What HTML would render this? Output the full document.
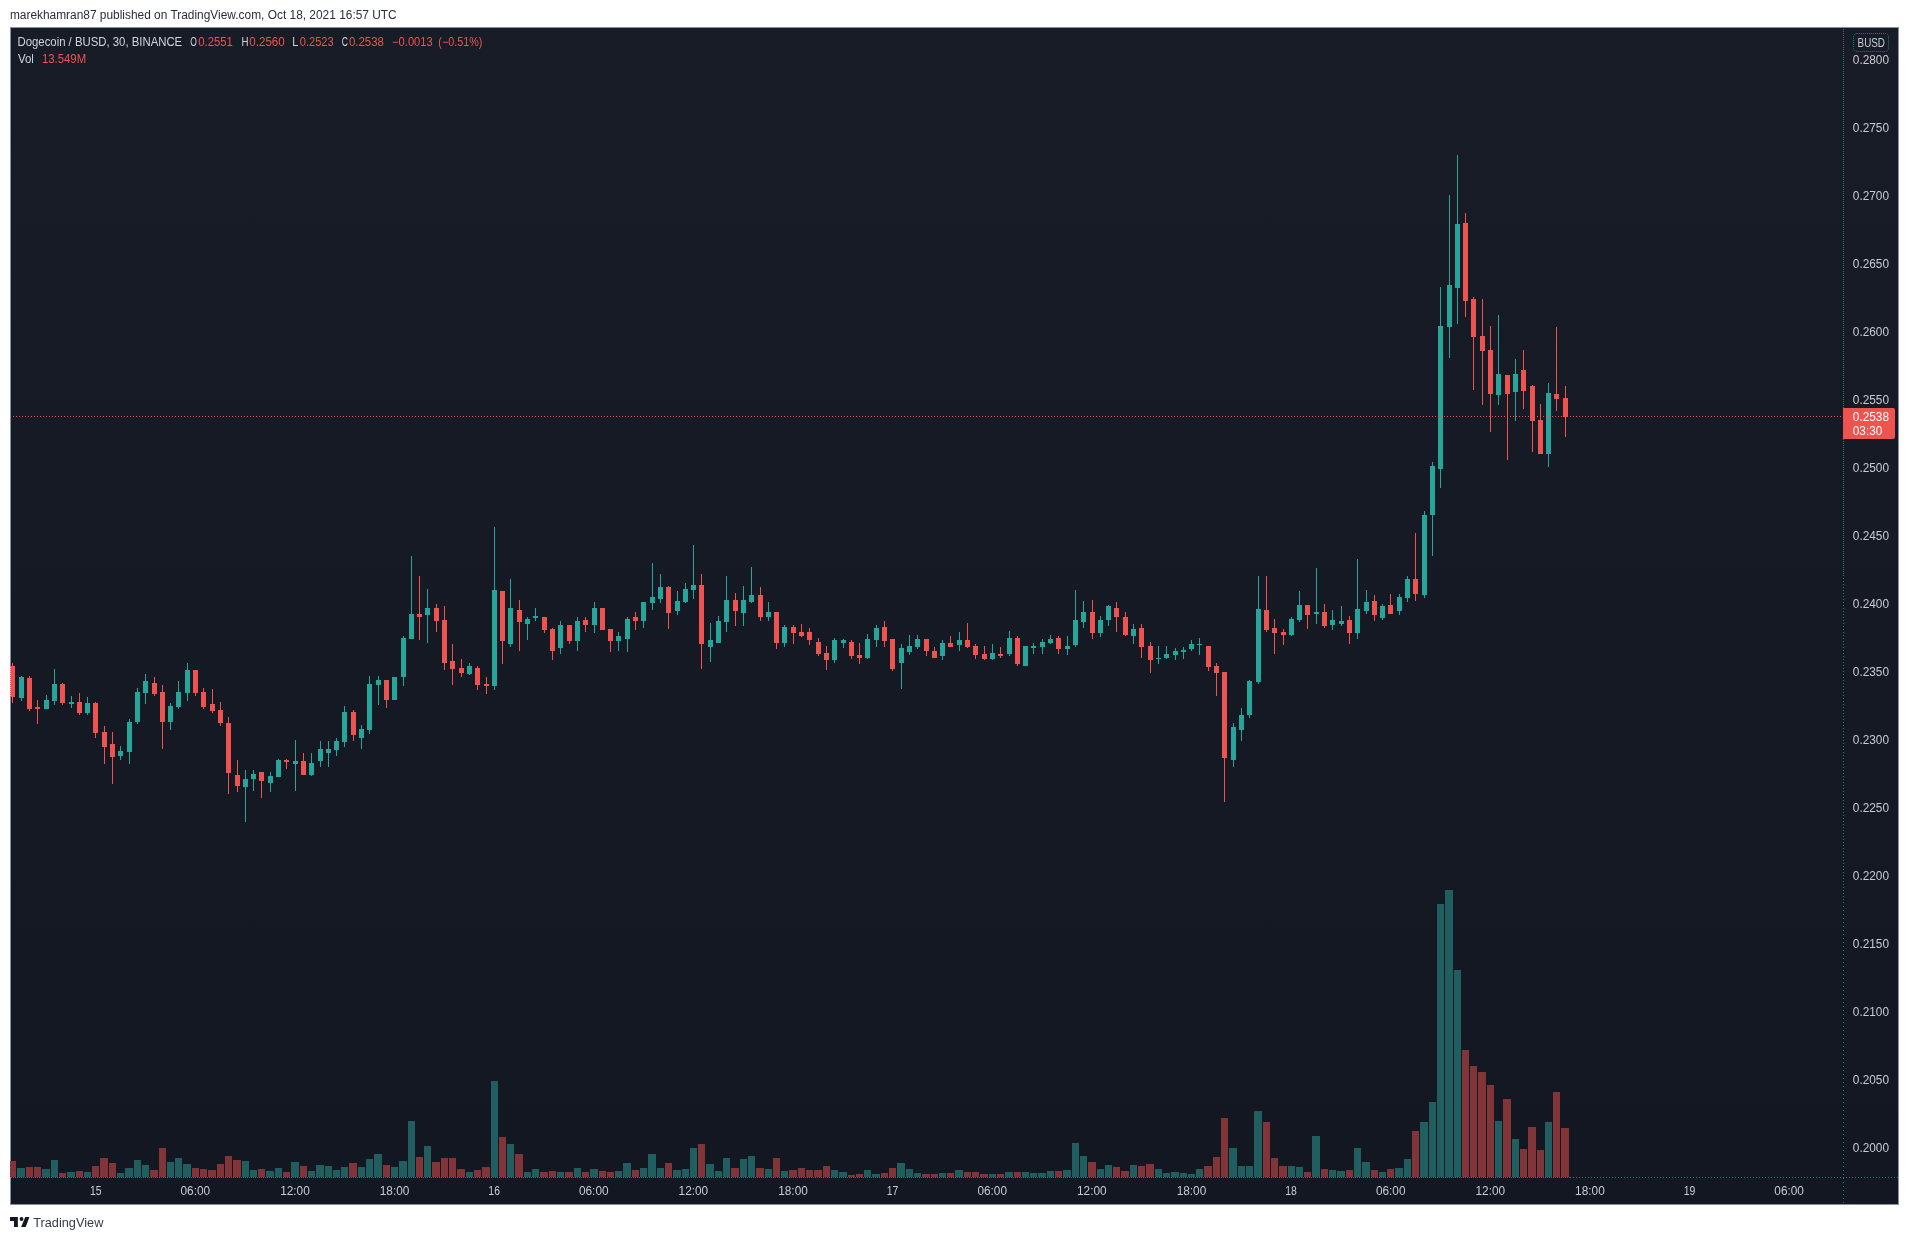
<!DOCTYPE html>
<html lang="en"><head><meta charset="utf-8"><title>Dogecoin / BUSD chart</title>
<style>html,body{margin:0;padding:0;background:#fff;}body{width:1909px;height:1240px;overflow:hidden;}svg{display:block;will-change:transform;}text{font-family:"Liberation Sans",sans-serif;}</style>
</head><body>
<svg width="1909" height="1240" viewBox="0 0 1909 1240">
<defs><linearGradient id="bg" x1="0" y1="0" x2="0" y2="1"><stop offset="0" stop-color="#181c27"/><stop offset="1" stop-color="#131722"/></linearGradient>
<clipPath id="cp"><rect x="10" y="28" width="1888" height="1176"/></clipPath></defs>
<rect x="0" y="0" width="1909" height="1240" fill="#ffffff"/>
<text x="9.9" y="19" font-size="12" fill="#2a2e39" textLength="386.8" lengthAdjust="spacingAndGlyphs">marekhamran87 published on TradingView.com, Oct 18, 2021 16:57 UTC</text>
<rect x="10" y="27" width="1889" height="1178" fill="#8b8e9b"/>
<rect x="11" y="28" width="1887" height="1176" fill="url(#bg)"/>
<g shape-rendering="crispEdges" clip-path="url(#cp)">
<rect x="9" y="1161" width="7" height="16" fill="#823539"/>
<rect x="17" y="1168" width="8" height="9" fill="#205e60"/>
<rect x="26" y="1167" width="7" height="10" fill="#823539"/>
<rect x="34" y="1167" width="7" height="10" fill="#823539"/>
<rect x="42" y="1169" width="8" height="8" fill="#205e60"/>
<rect x="51" y="1160" width="7" height="17" fill="#205e60"/>
<rect x="59" y="1173" width="7" height="4" fill="#823539"/>
<rect x="67" y="1172" width="8" height="5" fill="#205e60"/>
<rect x="76" y="1171" width="7" height="6" fill="#823539"/>
<rect x="84" y="1172" width="7" height="5" fill="#205e60"/>
<rect x="92" y="1166" width="7" height="11" fill="#823539"/>
<rect x="100" y="1158" width="8" height="19" fill="#823539"/>
<rect x="109" y="1163" width="7" height="14" fill="#823539"/>
<rect x="117" y="1173" width="7" height="4" fill="#205e60"/>
<rect x="125" y="1168" width="8" height="9" fill="#205e60"/>
<rect x="134" y="1160" width="7" height="17" fill="#205e60"/>
<rect x="142" y="1165" width="7" height="12" fill="#205e60"/>
<rect x="150" y="1170" width="8" height="7" fill="#823539"/>
<rect x="159" y="1148" width="7" height="29" fill="#823539"/>
<rect x="167" y="1162" width="7" height="15" fill="#205e60"/>
<rect x="175" y="1158" width="7" height="19" fill="#205e60"/>
<rect x="183" y="1164" width="8" height="13" fill="#205e60"/>
<rect x="192" y="1168" width="7" height="9" fill="#823539"/>
<rect x="200" y="1169" width="7" height="8" fill="#823539"/>
<rect x="208" y="1170" width="8" height="7" fill="#823539"/>
<rect x="217" y="1164" width="7" height="13" fill="#823539"/>
<rect x="225" y="1156" width="7" height="21" fill="#823539"/>
<rect x="233" y="1160" width="8" height="17" fill="#823539"/>
<rect x="242" y="1161" width="7" height="16" fill="#205e60"/>
<rect x="250" y="1170" width="7" height="7" fill="#205e60"/>
<rect x="258" y="1169" width="7" height="8" fill="#823539"/>
<rect x="266" y="1171" width="8" height="6" fill="#205e60"/>
<rect x="275" y="1168" width="7" height="9" fill="#205e60"/>
<rect x="283" y="1172" width="7" height="5" fill="#823539"/>
<rect x="291" y="1162" width="8" height="15" fill="#205e60"/>
<rect x="300" y="1166" width="7" height="11" fill="#823539"/>
<rect x="308" y="1171" width="7" height="6" fill="#205e60"/>
<rect x="316" y="1165" width="8" height="12" fill="#205e60"/>
<rect x="325" y="1166" width="7" height="11" fill="#205e60"/>
<rect x="333" y="1170" width="7" height="7" fill="#205e60"/>
<rect x="341" y="1167" width="7" height="10" fill="#205e60"/>
<rect x="349" y="1163" width="8" height="14" fill="#823539"/>
<rect x="358" y="1167" width="7" height="10" fill="#205e60"/>
<rect x="366" y="1159" width="7" height="18" fill="#205e60"/>
<rect x="374" y="1154" width="8" height="23" fill="#205e60"/>
<rect x="383" y="1165" width="7" height="12" fill="#823539"/>
<rect x="391" y="1167" width="7" height="10" fill="#205e60"/>
<rect x="399" y="1161" width="8" height="16" fill="#205e60"/>
<rect x="408" y="1121" width="7" height="56" fill="#205e60"/>
<rect x="416" y="1157" width="7" height="20" fill="#823539"/>
<rect x="424" y="1146" width="7" height="31" fill="#205e60"/>
<rect x="432" y="1162" width="8" height="15" fill="#823539"/>
<rect x="441" y="1158" width="7" height="19" fill="#823539"/>
<rect x="449" y="1158" width="7" height="19" fill="#823539"/>
<rect x="457" y="1169" width="8" height="8" fill="#823539"/>
<rect x="466" y="1172" width="7" height="5" fill="#205e60"/>
<rect x="474" y="1170" width="7" height="7" fill="#823539"/>
<rect x="482" y="1167" width="8" height="10" fill="#823539"/>
<rect x="491" y="1081" width="7" height="96" fill="#205e60"/>
<rect x="499" y="1137" width="7" height="40" fill="#823539"/>
<rect x="507" y="1144" width="7" height="33" fill="#205e60"/>
<rect x="515" y="1154" width="8" height="23" fill="#823539"/>
<rect x="524" y="1172" width="7" height="5" fill="#205e60"/>
<rect x="532" y="1169" width="7" height="8" fill="#205e60"/>
<rect x="540" y="1172" width="8" height="5" fill="#823539"/>
<rect x="549" y="1171" width="7" height="6" fill="#823539"/>
<rect x="557" y="1172" width="7" height="5" fill="#205e60"/>
<rect x="565" y="1172" width="8" height="5" fill="#823539"/>
<rect x="574" y="1168" width="7" height="9" fill="#205e60"/>
<rect x="582" y="1172" width="7" height="5" fill="#823539"/>
<rect x="590" y="1169" width="8" height="8" fill="#205e60"/>
<rect x="599" y="1171" width="7" height="6" fill="#823539"/>
<rect x="607" y="1172" width="7" height="5" fill="#823539"/>
<rect x="615" y="1171" width="7" height="6" fill="#205e60"/>
<rect x="623" y="1163" width="8" height="14" fill="#205e60"/>
<rect x="632" y="1170" width="7" height="7" fill="#823539"/>
<rect x="640" y="1168" width="7" height="9" fill="#205e60"/>
<rect x="648" y="1154" width="8" height="23" fill="#205e60"/>
<rect x="657" y="1168" width="7" height="9" fill="#205e60"/>
<rect x="665" y="1163" width="7" height="14" fill="#823539"/>
<rect x="673" y="1170" width="8" height="7" fill="#205e60"/>
<rect x="682" y="1169" width="7" height="8" fill="#205e60"/>
<rect x="690" y="1148" width="7" height="29" fill="#205e60"/>
<rect x="698" y="1144" width="7" height="33" fill="#823539"/>
<rect x="706" y="1164" width="8" height="13" fill="#205e60"/>
<rect x="715" y="1171" width="7" height="6" fill="#205e60"/>
<rect x="723" y="1158" width="7" height="19" fill="#205e60"/>
<rect x="731" y="1168" width="8" height="9" fill="#823539"/>
<rect x="740" y="1159" width="7" height="18" fill="#205e60"/>
<rect x="748" y="1156" width="7" height="21" fill="#205e60"/>
<rect x="756" y="1168" width="8" height="9" fill="#823539"/>
<rect x="765" y="1169" width="7" height="8" fill="#205e60"/>
<rect x="773" y="1158" width="7" height="19" fill="#823539"/>
<rect x="781" y="1171" width="7" height="6" fill="#205e60"/>
<rect x="789" y="1170" width="8" height="7" fill="#823539"/>
<rect x="798" y="1168" width="7" height="9" fill="#823539"/>
<rect x="806" y="1170" width="7" height="7" fill="#823539"/>
<rect x="814" y="1170" width="8" height="7" fill="#823539"/>
<rect x="823" y="1166" width="7" height="11" fill="#823539"/>
<rect x="831" y="1170" width="7" height="7" fill="#205e60"/>
<rect x="839" y="1172" width="8" height="5" fill="#205e60"/>
<rect x="848" y="1175" width="7" height="2" fill="#823539"/>
<rect x="856" y="1174" width="7" height="3" fill="#823539"/>
<rect x="864" y="1170" width="7" height="7" fill="#205e60"/>
<rect x="872" y="1174" width="8" height="3" fill="#205e60"/>
<rect x="881" y="1173" width="7" height="4" fill="#823539"/>
<rect x="889" y="1168" width="7" height="9" fill="#823539"/>
<rect x="897" y="1163" width="8" height="14" fill="#205e60"/>
<rect x="906" y="1169" width="7" height="8" fill="#205e60"/>
<rect x="914" y="1173" width="7" height="4" fill="#205e60"/>
<rect x="922" y="1174" width="8" height="3" fill="#823539"/>
<rect x="931" y="1174" width="7" height="3" fill="#823539"/>
<rect x="939" y="1173" width="7" height="4" fill="#205e60"/>
<rect x="947" y="1173" width="7" height="4" fill="#823539"/>
<rect x="955" y="1170" width="8" height="7" fill="#205e60"/>
<rect x="964" y="1172" width="7" height="5" fill="#823539"/>
<rect x="972" y="1172" width="7" height="5" fill="#823539"/>
<rect x="980" y="1174" width="8" height="3" fill="#823539"/>
<rect x="989" y="1174" width="7" height="3" fill="#205e60"/>
<rect x="997" y="1174" width="7" height="3" fill="#823539"/>
<rect x="1005" y="1172" width="8" height="5" fill="#205e60"/>
<rect x="1014" y="1172" width="7" height="5" fill="#823539"/>
<rect x="1022" y="1172" width="7" height="5" fill="#205e60"/>
<rect x="1030" y="1173" width="7" height="4" fill="#205e60"/>
<rect x="1038" y="1173" width="8" height="4" fill="#205e60"/>
<rect x="1047" y="1171" width="7" height="6" fill="#205e60"/>
<rect x="1055" y="1171" width="7" height="6" fill="#823539"/>
<rect x="1063" y="1170" width="8" height="7" fill="#205e60"/>
<rect x="1072" y="1143" width="7" height="34" fill="#205e60"/>
<rect x="1080" y="1156" width="7" height="21" fill="#205e60"/>
<rect x="1088" y="1162" width="8" height="15" fill="#823539"/>
<rect x="1097" y="1169" width="7" height="8" fill="#205e60"/>
<rect x="1105" y="1165" width="7" height="12" fill="#205e60"/>
<rect x="1113" y="1167" width="7" height="10" fill="#823539"/>
<rect x="1121" y="1171" width="8" height="6" fill="#823539"/>
<rect x="1130" y="1165" width="7" height="12" fill="#205e60"/>
<rect x="1138" y="1166" width="7" height="11" fill="#823539"/>
<rect x="1146" y="1164" width="8" height="13" fill="#823539"/>
<rect x="1155" y="1169" width="7" height="8" fill="#205e60"/>
<rect x="1163" y="1173" width="7" height="4" fill="#205e60"/>
<rect x="1171" y="1172" width="8" height="5" fill="#205e60"/>
<rect x="1180" y="1173" width="7" height="4" fill="#205e60"/>
<rect x="1188" y="1174" width="7" height="3" fill="#205e60"/>
<rect x="1196" y="1169" width="7" height="8" fill="#205e60"/>
<rect x="1204" y="1166" width="8" height="11" fill="#823539"/>
<rect x="1213" y="1157" width="7" height="20" fill="#823539"/>
<rect x="1221" y="1118" width="7" height="59" fill="#823539"/>
<rect x="1229" y="1148" width="8" height="29" fill="#205e60"/>
<rect x="1238" y="1166" width="7" height="11" fill="#205e60"/>
<rect x="1246" y="1166" width="7" height="11" fill="#205e60"/>
<rect x="1254" y="1111" width="8" height="66" fill="#205e60"/>
<rect x="1263" y="1122" width="7" height="55" fill="#823539"/>
<rect x="1271" y="1158" width="7" height="19" fill="#823539"/>
<rect x="1279" y="1166" width="8" height="11" fill="#823539"/>
<rect x="1288" y="1166" width="7" height="11" fill="#205e60"/>
<rect x="1296" y="1167" width="7" height="10" fill="#205e60"/>
<rect x="1304" y="1172" width="7" height="5" fill="#823539"/>
<rect x="1312" y="1136" width="8" height="41" fill="#205e60"/>
<rect x="1321" y="1169" width="7" height="8" fill="#823539"/>
<rect x="1329" y="1170" width="7" height="7" fill="#205e60"/>
<rect x="1337" y="1171" width="8" height="6" fill="#205e60"/>
<rect x="1346" y="1170" width="7" height="7" fill="#823539"/>
<rect x="1354" y="1148" width="7" height="29" fill="#205e60"/>
<rect x="1362" y="1162" width="8" height="15" fill="#205e60"/>
<rect x="1371" y="1170" width="7" height="7" fill="#823539"/>
<rect x="1379" y="1172" width="7" height="5" fill="#205e60"/>
<rect x="1387" y="1169" width="7" height="8" fill="#823539"/>
<rect x="1395" y="1168" width="8" height="9" fill="#205e60"/>
<rect x="1404" y="1159" width="7" height="18" fill="#205e60"/>
<rect x="1412" y="1131" width="7" height="46" fill="#823539"/>
<rect x="1420" y="1122" width="8" height="55" fill="#205e60"/>
<rect x="1429" y="1102" width="7" height="75" fill="#205e60"/>
<rect x="1437" y="904" width="7" height="273" fill="#205e60"/>
<rect x="1445" y="890" width="8" height="287" fill="#205e60"/>
<rect x="1454" y="970" width="7" height="207" fill="#205e60"/>
<rect x="1462" y="1050" width="7" height="127" fill="#823539"/>
<rect x="1470" y="1066" width="7" height="111" fill="#823539"/>
<rect x="1478" y="1072" width="8" height="105" fill="#823539"/>
<rect x="1487" y="1085" width="7" height="92" fill="#823539"/>
<rect x="1495" y="1121" width="7" height="56" fill="#205e60"/>
<rect x="1503" y="1099" width="8" height="78" fill="#823539"/>
<rect x="1512" y="1139" width="7" height="38" fill="#205e60"/>
<rect x="1520" y="1149" width="7" height="28" fill="#823539"/>
<rect x="1528" y="1127" width="8" height="50" fill="#823539"/>
<rect x="1537" y="1150" width="7" height="27" fill="#823539"/>
<rect x="1545" y="1122" width="7" height="55" fill="#205e60"/>
<rect x="1553" y="1092" width="7" height="85" fill="#823539"/>
<rect x="1561" y="1128" width="8" height="49" fill="#823539"/>
<rect x="12" y="663" width="1" height="40" fill="#ef5350"/>
<rect x="10" y="666" width="5" height="31" fill="#ef5350"/>
<rect x="21" y="676" width="1" height="25" fill="#26a69a"/>
<rect x="19" y="677" width="5" height="21" fill="#26a69a"/>
<rect x="29" y="676" width="1" height="35" fill="#ef5350"/>
<rect x="27" y="678" width="5" height="31" fill="#ef5350"/>
<rect x="37" y="700" width="1" height="24" fill="#ef5350"/>
<rect x="35" y="707" width="5" height="2" fill="#ef5350"/>
<rect x="46" y="695" width="1" height="14" fill="#26a69a"/>
<rect x="44" y="700" width="5" height="9" fill="#26a69a"/>
<rect x="54" y="669" width="1" height="36" fill="#26a69a"/>
<rect x="52" y="684" width="5" height="17" fill="#26a69a"/>
<rect x="62" y="683" width="1" height="22" fill="#ef5350"/>
<rect x="60" y="684" width="5" height="19" fill="#ef5350"/>
<rect x="71" y="696" width="1" height="12" fill="#26a69a"/>
<rect x="69" y="702" width="5" height="2" fill="#26a69a"/>
<rect x="79" y="693" width="1" height="22" fill="#ef5350"/>
<rect x="77" y="702" width="5" height="11" fill="#ef5350"/>
<rect x="87" y="697" width="1" height="18" fill="#26a69a"/>
<rect x="85" y="703" width="5" height="10" fill="#26a69a"/>
<rect x="95" y="702" width="1" height="36" fill="#ef5350"/>
<rect x="93" y="703" width="5" height="30" fill="#ef5350"/>
<rect x="104" y="726" width="1" height="38" fill="#ef5350"/>
<rect x="102" y="732" width="5" height="15" fill="#ef5350"/>
<rect x="112" y="732" width="1" height="52" fill="#ef5350"/>
<rect x="110" y="744" width="5" height="13" fill="#ef5350"/>
<rect x="120" y="746" width="1" height="14" fill="#26a69a"/>
<rect x="118" y="751" width="5" height="5" fill="#26a69a"/>
<rect x="129" y="719" width="1" height="45" fill="#26a69a"/>
<rect x="127" y="722" width="5" height="30" fill="#26a69a"/>
<rect x="137" y="688" width="1" height="36" fill="#26a69a"/>
<rect x="135" y="692" width="5" height="30" fill="#26a69a"/>
<rect x="145" y="674" width="1" height="30" fill="#26a69a"/>
<rect x="143" y="681" width="5" height="12" fill="#26a69a"/>
<rect x="154" y="677" width="1" height="19" fill="#ef5350"/>
<rect x="152" y="683" width="5" height="11" fill="#ef5350"/>
<rect x="162" y="685" width="1" height="64" fill="#ef5350"/>
<rect x="160" y="692" width="5" height="30" fill="#ef5350"/>
<rect x="170" y="703" width="1" height="27" fill="#26a69a"/>
<rect x="168" y="706" width="5" height="16" fill="#26a69a"/>
<rect x="178" y="681" width="1" height="28" fill="#26a69a"/>
<rect x="176" y="692" width="5" height="15" fill="#26a69a"/>
<rect x="187" y="663" width="1" height="38" fill="#26a69a"/>
<rect x="185" y="670" width="5" height="23" fill="#26a69a"/>
<rect x="195" y="670" width="1" height="26" fill="#ef5350"/>
<rect x="193" y="670" width="5" height="23" fill="#ef5350"/>
<rect x="203" y="688" width="1" height="21" fill="#ef5350"/>
<rect x="201" y="692" width="5" height="15" fill="#ef5350"/>
<rect x="212" y="689" width="1" height="24" fill="#ef5350"/>
<rect x="210" y="704" width="5" height="7" fill="#ef5350"/>
<rect x="220" y="702" width="1" height="24" fill="#ef5350"/>
<rect x="218" y="710" width="5" height="13" fill="#ef5350"/>
<rect x="228" y="717" width="1" height="77" fill="#ef5350"/>
<rect x="226" y="723" width="5" height="50" fill="#ef5350"/>
<rect x="237" y="760" width="1" height="32" fill="#ef5350"/>
<rect x="235" y="775" width="5" height="11" fill="#ef5350"/>
<rect x="245" y="770" width="1" height="52" fill="#26a69a"/>
<rect x="243" y="779" width="5" height="8" fill="#26a69a"/>
<rect x="253" y="770" width="1" height="21" fill="#26a69a"/>
<rect x="251" y="774" width="5" height="5" fill="#26a69a"/>
<rect x="261" y="772" width="1" height="26" fill="#ef5350"/>
<rect x="259" y="772" width="5" height="9" fill="#ef5350"/>
<rect x="270" y="772" width="1" height="20" fill="#26a69a"/>
<rect x="268" y="776" width="5" height="7" fill="#26a69a"/>
<rect x="278" y="759" width="1" height="18" fill="#26a69a"/>
<rect x="276" y="760" width="5" height="17" fill="#26a69a"/>
<rect x="286" y="759" width="1" height="10" fill="#ef5350"/>
<rect x="284" y="760" width="5" height="2" fill="#ef5350"/>
<rect x="295" y="740" width="1" height="51" fill="#26a69a"/>
<rect x="293" y="761" width="5" height="3" fill="#26a69a"/>
<rect x="303" y="753" width="1" height="22" fill="#ef5350"/>
<rect x="301" y="761" width="5" height="14" fill="#ef5350"/>
<rect x="311" y="753" width="1" height="23" fill="#26a69a"/>
<rect x="309" y="763" width="5" height="12" fill="#26a69a"/>
<rect x="320" y="741" width="1" height="26" fill="#26a69a"/>
<rect x="318" y="749" width="5" height="12" fill="#26a69a"/>
<rect x="328" y="741" width="1" height="26" fill="#26a69a"/>
<rect x="326" y="749" width="5" height="4" fill="#26a69a"/>
<rect x="336" y="738" width="1" height="18" fill="#26a69a"/>
<rect x="334" y="741" width="5" height="9" fill="#26a69a"/>
<rect x="344" y="706" width="1" height="41" fill="#26a69a"/>
<rect x="342" y="712" width="5" height="30" fill="#26a69a"/>
<rect x="353" y="710" width="1" height="31" fill="#ef5350"/>
<rect x="351" y="712" width="5" height="23" fill="#ef5350"/>
<rect x="361" y="725" width="1" height="24" fill="#26a69a"/>
<rect x="359" y="729" width="5" height="9" fill="#26a69a"/>
<rect x="369" y="676" width="1" height="58" fill="#26a69a"/>
<rect x="367" y="684" width="5" height="46" fill="#26a69a"/>
<rect x="378" y="676" width="1" height="29" fill="#26a69a"/>
<rect x="376" y="680" width="5" height="5" fill="#26a69a"/>
<rect x="386" y="680" width="1" height="28" fill="#ef5350"/>
<rect x="384" y="680" width="5" height="20" fill="#ef5350"/>
<rect x="394" y="677" width="1" height="23" fill="#26a69a"/>
<rect x="392" y="677" width="5" height="23" fill="#26a69a"/>
<rect x="403" y="636" width="1" height="50" fill="#26a69a"/>
<rect x="401" y="638" width="5" height="39" fill="#26a69a"/>
<rect x="411" y="556" width="1" height="83" fill="#26a69a"/>
<rect x="409" y="614" width="5" height="25" fill="#26a69a"/>
<rect x="419" y="576" width="1" height="64" fill="#ef5350"/>
<rect x="417" y="614" width="5" height="3" fill="#ef5350"/>
<rect x="427" y="589" width="1" height="54" fill="#26a69a"/>
<rect x="425" y="608" width="5" height="7" fill="#26a69a"/>
<rect x="436" y="604" width="1" height="28" fill="#ef5350"/>
<rect x="434" y="608" width="5" height="13" fill="#ef5350"/>
<rect x="444" y="606" width="1" height="64" fill="#ef5350"/>
<rect x="442" y="620" width="5" height="43" fill="#ef5350"/>
<rect x="452" y="644" width="1" height="41" fill="#ef5350"/>
<rect x="450" y="661" width="5" height="8" fill="#ef5350"/>
<rect x="461" y="659" width="1" height="18" fill="#ef5350"/>
<rect x="459" y="668" width="5" height="5" fill="#ef5350"/>
<rect x="469" y="663" width="1" height="12" fill="#26a69a"/>
<rect x="467" y="666" width="5" height="8" fill="#26a69a"/>
<rect x="477" y="666" width="1" height="24" fill="#ef5350"/>
<rect x="475" y="668" width="5" height="17" fill="#ef5350"/>
<rect x="486" y="677" width="1" height="17" fill="#ef5350"/>
<rect x="484" y="684" width="5" height="2" fill="#ef5350"/>
<rect x="494" y="527" width="1" height="163" fill="#26a69a"/>
<rect x="492" y="590" width="5" height="96" fill="#26a69a"/>
<rect x="502" y="591" width="1" height="73" fill="#ef5350"/>
<rect x="500" y="591" width="5" height="50" fill="#ef5350"/>
<rect x="510" y="579" width="1" height="68" fill="#26a69a"/>
<rect x="508" y="608" width="5" height="36" fill="#26a69a"/>
<rect x="519" y="600" width="1" height="51" fill="#ef5350"/>
<rect x="517" y="610" width="5" height="12" fill="#ef5350"/>
<rect x="527" y="617" width="1" height="23" fill="#26a69a"/>
<rect x="525" y="619" width="5" height="5" fill="#26a69a"/>
<rect x="535" y="608" width="1" height="13" fill="#26a69a"/>
<rect x="533" y="616" width="5" height="2" fill="#26a69a"/>
<rect x="544" y="617" width="1" height="16" fill="#ef5350"/>
<rect x="542" y="617" width="5" height="13" fill="#ef5350"/>
<rect x="552" y="628" width="1" height="32" fill="#ef5350"/>
<rect x="550" y="629" width="5" height="22" fill="#ef5350"/>
<rect x="560" y="621" width="1" height="33" fill="#26a69a"/>
<rect x="558" y="625" width="5" height="23" fill="#26a69a"/>
<rect x="569" y="625" width="1" height="19" fill="#ef5350"/>
<rect x="567" y="625" width="5" height="16" fill="#ef5350"/>
<rect x="577" y="617" width="1" height="34" fill="#26a69a"/>
<rect x="575" y="621" width="5" height="20" fill="#26a69a"/>
<rect x="585" y="617" width="1" height="15" fill="#ef5350"/>
<rect x="583" y="620" width="5" height="5" fill="#ef5350"/>
<rect x="594" y="602" width="1" height="31" fill="#26a69a"/>
<rect x="592" y="608" width="5" height="17" fill="#26a69a"/>
<rect x="602" y="608" width="1" height="22" fill="#ef5350"/>
<rect x="600" y="608" width="5" height="22" fill="#ef5350"/>
<rect x="610" y="629" width="1" height="23" fill="#ef5350"/>
<rect x="608" y="629" width="5" height="12" fill="#ef5350"/>
<rect x="618" y="632" width="1" height="19" fill="#26a69a"/>
<rect x="616" y="636" width="5" height="5" fill="#26a69a"/>
<rect x="627" y="617" width="1" height="35" fill="#26a69a"/>
<rect x="625" y="619" width="5" height="20" fill="#26a69a"/>
<rect x="635" y="612" width="1" height="18" fill="#ef5350"/>
<rect x="633" y="617" width="5" height="4" fill="#ef5350"/>
<rect x="643" y="602" width="1" height="26" fill="#26a69a"/>
<rect x="641" y="602" width="5" height="19" fill="#26a69a"/>
<rect x="652" y="563" width="1" height="47" fill="#26a69a"/>
<rect x="650" y="597" width="5" height="6" fill="#26a69a"/>
<rect x="660" y="574" width="1" height="29" fill="#26a69a"/>
<rect x="658" y="587" width="5" height="12" fill="#26a69a"/>
<rect x="668" y="586" width="1" height="43" fill="#ef5350"/>
<rect x="666" y="587" width="5" height="26" fill="#ef5350"/>
<rect x="677" y="591" width="1" height="24" fill="#26a69a"/>
<rect x="675" y="601" width="5" height="10" fill="#26a69a"/>
<rect x="685" y="583" width="1" height="20" fill="#26a69a"/>
<rect x="683" y="589" width="5" height="13" fill="#26a69a"/>
<rect x="693" y="545" width="1" height="54" fill="#26a69a"/>
<rect x="691" y="585" width="5" height="5" fill="#26a69a"/>
<rect x="701" y="574" width="1" height="95" fill="#ef5350"/>
<rect x="699" y="585" width="5" height="59" fill="#ef5350"/>
<rect x="710" y="623" width="1" height="39" fill="#26a69a"/>
<rect x="708" y="640" width="5" height="7" fill="#26a69a"/>
<rect x="718" y="616" width="1" height="27" fill="#26a69a"/>
<rect x="716" y="621" width="5" height="22" fill="#26a69a"/>
<rect x="726" y="576" width="1" height="56" fill="#26a69a"/>
<rect x="724" y="600" width="5" height="22" fill="#26a69a"/>
<rect x="735" y="593" width="1" height="33" fill="#ef5350"/>
<rect x="733" y="600" width="5" height="11" fill="#ef5350"/>
<rect x="743" y="586" width="1" height="40" fill="#26a69a"/>
<rect x="741" y="600" width="5" height="13" fill="#26a69a"/>
<rect x="751" y="567" width="1" height="36" fill="#26a69a"/>
<rect x="749" y="595" width="5" height="7" fill="#26a69a"/>
<rect x="760" y="587" width="1" height="34" fill="#ef5350"/>
<rect x="758" y="595" width="5" height="22" fill="#ef5350"/>
<rect x="768" y="602" width="1" height="19" fill="#26a69a"/>
<rect x="766" y="612" width="5" height="5" fill="#26a69a"/>
<rect x="776" y="612" width="1" height="37" fill="#ef5350"/>
<rect x="774" y="612" width="5" height="31" fill="#ef5350"/>
<rect x="784" y="625" width="1" height="22" fill="#26a69a"/>
<rect x="782" y="627" width="5" height="16" fill="#26a69a"/>
<rect x="793" y="625" width="1" height="19" fill="#ef5350"/>
<rect x="791" y="627" width="5" height="6" fill="#ef5350"/>
<rect x="801" y="624" width="1" height="13" fill="#ef5350"/>
<rect x="799" y="632" width="5" height="4" fill="#ef5350"/>
<rect x="809" y="628" width="1" height="17" fill="#ef5350"/>
<rect x="807" y="632" width="5" height="8" fill="#ef5350"/>
<rect x="818" y="638" width="1" height="18" fill="#ef5350"/>
<rect x="816" y="642" width="5" height="12" fill="#ef5350"/>
<rect x="826" y="646" width="1" height="24" fill="#ef5350"/>
<rect x="824" y="653" width="5" height="7" fill="#ef5350"/>
<rect x="834" y="638" width="1" height="25" fill="#26a69a"/>
<rect x="832" y="640" width="5" height="20" fill="#26a69a"/>
<rect x="843" y="639" width="1" height="9" fill="#26a69a"/>
<rect x="841" y="640" width="5" height="3" fill="#26a69a"/>
<rect x="851" y="640" width="1" height="19" fill="#ef5350"/>
<rect x="849" y="642" width="5" height="14" fill="#ef5350"/>
<rect x="859" y="643" width="1" height="21" fill="#ef5350"/>
<rect x="857" y="655" width="5" height="3" fill="#ef5350"/>
<rect x="867" y="634" width="1" height="25" fill="#26a69a"/>
<rect x="865" y="639" width="5" height="19" fill="#26a69a"/>
<rect x="876" y="625" width="1" height="22" fill="#26a69a"/>
<rect x="874" y="628" width="5" height="12" fill="#26a69a"/>
<rect x="884" y="621" width="1" height="26" fill="#ef5350"/>
<rect x="882" y="627" width="5" height="14" fill="#ef5350"/>
<rect x="892" y="639" width="1" height="32" fill="#ef5350"/>
<rect x="890" y="639" width="5" height="30" fill="#ef5350"/>
<rect x="901" y="644" width="1" height="45" fill="#26a69a"/>
<rect x="899" y="648" width="5" height="15" fill="#26a69a"/>
<rect x="909" y="635" width="1" height="20" fill="#26a69a"/>
<rect x="907" y="646" width="5" height="6" fill="#26a69a"/>
<rect x="917" y="635" width="1" height="14" fill="#26a69a"/>
<rect x="915" y="639" width="5" height="8" fill="#26a69a"/>
<rect x="926" y="639" width="1" height="17" fill="#ef5350"/>
<rect x="924" y="639" width="5" height="12" fill="#ef5350"/>
<rect x="934" y="647" width="1" height="11" fill="#ef5350"/>
<rect x="932" y="651" width="5" height="7" fill="#ef5350"/>
<rect x="942" y="640" width="1" height="20" fill="#26a69a"/>
<rect x="940" y="643" width="5" height="13" fill="#26a69a"/>
<rect x="950" y="636" width="1" height="11" fill="#ef5350"/>
<rect x="948" y="643" width="5" height="4" fill="#ef5350"/>
<rect x="959" y="632" width="1" height="19" fill="#26a69a"/>
<rect x="957" y="640" width="5" height="5" fill="#26a69a"/>
<rect x="967" y="623" width="1" height="25" fill="#ef5350"/>
<rect x="965" y="640" width="5" height="7" fill="#ef5350"/>
<rect x="975" y="644" width="1" height="15" fill="#ef5350"/>
<rect x="973" y="646" width="5" height="9" fill="#ef5350"/>
<rect x="984" y="646" width="1" height="14" fill="#ef5350"/>
<rect x="982" y="654" width="5" height="5" fill="#ef5350"/>
<rect x="992" y="644" width="1" height="16" fill="#26a69a"/>
<rect x="990" y="653" width="5" height="6" fill="#26a69a"/>
<rect x="1000" y="647" width="1" height="11" fill="#ef5350"/>
<rect x="998" y="654" width="5" height="2" fill="#ef5350"/>
<rect x="1009" y="631" width="1" height="25" fill="#26a69a"/>
<rect x="1007" y="638" width="5" height="16" fill="#26a69a"/>
<rect x="1017" y="636" width="1" height="30" fill="#ef5350"/>
<rect x="1015" y="638" width="5" height="26" fill="#ef5350"/>
<rect x="1025" y="646" width="1" height="20" fill="#26a69a"/>
<rect x="1023" y="646" width="5" height="20" fill="#26a69a"/>
<rect x="1033" y="643" width="1" height="11" fill="#26a69a"/>
<rect x="1031" y="646" width="5" height="2" fill="#26a69a"/>
<rect x="1042" y="639" width="1" height="15" fill="#26a69a"/>
<rect x="1040" y="642" width="5" height="5" fill="#26a69a"/>
<rect x="1050" y="635" width="1" height="9" fill="#26a69a"/>
<rect x="1048" y="639" width="5" height="4" fill="#26a69a"/>
<rect x="1058" y="636" width="1" height="18" fill="#ef5350"/>
<rect x="1056" y="638" width="5" height="11" fill="#ef5350"/>
<rect x="1067" y="636" width="1" height="19" fill="#26a69a"/>
<rect x="1065" y="646" width="5" height="3" fill="#26a69a"/>
<rect x="1075" y="590" width="1" height="57" fill="#26a69a"/>
<rect x="1073" y="620" width="5" height="25" fill="#26a69a"/>
<rect x="1083" y="601" width="1" height="27" fill="#26a69a"/>
<rect x="1081" y="612" width="5" height="10" fill="#26a69a"/>
<rect x="1092" y="600" width="1" height="39" fill="#ef5350"/>
<rect x="1090" y="612" width="5" height="21" fill="#ef5350"/>
<rect x="1100" y="616" width="1" height="21" fill="#26a69a"/>
<rect x="1098" y="620" width="5" height="13" fill="#26a69a"/>
<rect x="1108" y="605" width="1" height="21" fill="#26a69a"/>
<rect x="1106" y="606" width="5" height="14" fill="#26a69a"/>
<rect x="1116" y="602" width="1" height="30" fill="#ef5350"/>
<rect x="1114" y="608" width="5" height="9" fill="#ef5350"/>
<rect x="1125" y="612" width="1" height="24" fill="#ef5350"/>
<rect x="1123" y="617" width="5" height="18" fill="#ef5350"/>
<rect x="1133" y="624" width="1" height="20" fill="#26a69a"/>
<rect x="1131" y="629" width="5" height="7" fill="#26a69a"/>
<rect x="1141" y="624" width="1" height="34" fill="#ef5350"/>
<rect x="1139" y="628" width="5" height="19" fill="#ef5350"/>
<rect x="1150" y="642" width="1" height="31" fill="#ef5350"/>
<rect x="1148" y="646" width="5" height="14" fill="#ef5350"/>
<rect x="1158" y="646" width="1" height="18" fill="#26a69a"/>
<rect x="1156" y="658" width="5" height="1" fill="#26a69a"/>
<rect x="1166" y="646" width="1" height="13" fill="#26a69a"/>
<rect x="1164" y="654" width="5" height="4" fill="#26a69a"/>
<rect x="1175" y="648" width="1" height="12" fill="#26a69a"/>
<rect x="1173" y="651" width="5" height="4" fill="#26a69a"/>
<rect x="1183" y="647" width="1" height="12" fill="#26a69a"/>
<rect x="1181" y="650" width="5" height="2" fill="#26a69a"/>
<rect x="1191" y="640" width="1" height="11" fill="#26a69a"/>
<rect x="1189" y="644" width="5" height="5" fill="#26a69a"/>
<rect x="1199" y="638" width="1" height="17" fill="#26a69a"/>
<rect x="1197" y="644" width="5" height="1" fill="#26a69a"/>
<rect x="1208" y="646" width="1" height="25" fill="#ef5350"/>
<rect x="1206" y="646" width="5" height="21" fill="#ef5350"/>
<rect x="1216" y="663" width="1" height="33" fill="#ef5350"/>
<rect x="1214" y="666" width="5" height="7" fill="#ef5350"/>
<rect x="1224" y="672" width="1" height="130" fill="#ef5350"/>
<rect x="1222" y="672" width="5" height="86" fill="#ef5350"/>
<rect x="1233" y="723" width="1" height="44" fill="#26a69a"/>
<rect x="1231" y="727" width="5" height="33" fill="#26a69a"/>
<rect x="1241" y="708" width="1" height="33" fill="#26a69a"/>
<rect x="1239" y="715" width="5" height="15" fill="#26a69a"/>
<rect x="1249" y="680" width="1" height="38" fill="#26a69a"/>
<rect x="1247" y="681" width="5" height="34" fill="#26a69a"/>
<rect x="1258" y="576" width="1" height="108" fill="#26a69a"/>
<rect x="1256" y="609" width="5" height="73" fill="#26a69a"/>
<rect x="1266" y="576" width="1" height="56" fill="#ef5350"/>
<rect x="1264" y="610" width="5" height="20" fill="#ef5350"/>
<rect x="1274" y="619" width="1" height="35" fill="#ef5350"/>
<rect x="1272" y="628" width="5" height="5" fill="#ef5350"/>
<rect x="1283" y="629" width="1" height="16" fill="#ef5350"/>
<rect x="1281" y="632" width="5" height="3" fill="#ef5350"/>
<rect x="1291" y="617" width="1" height="19" fill="#26a69a"/>
<rect x="1289" y="619" width="5" height="16" fill="#26a69a"/>
<rect x="1299" y="591" width="1" height="31" fill="#26a69a"/>
<rect x="1297" y="605" width="5" height="15" fill="#26a69a"/>
<rect x="1307" y="605" width="1" height="24" fill="#ef5350"/>
<rect x="1305" y="605" width="5" height="10" fill="#ef5350"/>
<rect x="1316" y="568" width="1" height="56" fill="#26a69a"/>
<rect x="1314" y="612" width="5" height="2" fill="#26a69a"/>
<rect x="1324" y="604" width="1" height="24" fill="#ef5350"/>
<rect x="1322" y="612" width="5" height="14" fill="#ef5350"/>
<rect x="1332" y="610" width="1" height="20" fill="#26a69a"/>
<rect x="1330" y="620" width="5" height="5" fill="#26a69a"/>
<rect x="1341" y="606" width="1" height="20" fill="#26a69a"/>
<rect x="1339" y="621" width="5" height="3" fill="#26a69a"/>
<rect x="1349" y="616" width="1" height="28" fill="#ef5350"/>
<rect x="1347" y="620" width="5" height="13" fill="#ef5350"/>
<rect x="1357" y="559" width="1" height="80" fill="#26a69a"/>
<rect x="1355" y="609" width="5" height="24" fill="#26a69a"/>
<rect x="1366" y="590" width="1" height="24" fill="#26a69a"/>
<rect x="1364" y="602" width="5" height="9" fill="#26a69a"/>
<rect x="1374" y="595" width="1" height="26" fill="#ef5350"/>
<rect x="1372" y="601" width="5" height="14" fill="#ef5350"/>
<rect x="1382" y="604" width="1" height="16" fill="#26a69a"/>
<rect x="1380" y="606" width="5" height="12" fill="#26a69a"/>
<rect x="1390" y="594" width="1" height="20" fill="#ef5350"/>
<rect x="1388" y="605" width="5" height="9" fill="#ef5350"/>
<rect x="1399" y="594" width="1" height="21" fill="#26a69a"/>
<rect x="1397" y="597" width="5" height="14" fill="#26a69a"/>
<rect x="1407" y="576" width="1" height="26" fill="#26a69a"/>
<rect x="1405" y="579" width="5" height="19" fill="#26a69a"/>
<rect x="1415" y="533" width="1" height="68" fill="#ef5350"/>
<rect x="1413" y="579" width="5" height="15" fill="#ef5350"/>
<rect x="1424" y="511" width="1" height="87" fill="#26a69a"/>
<rect x="1422" y="515" width="5" height="80" fill="#26a69a"/>
<rect x="1432" y="462" width="1" height="94" fill="#26a69a"/>
<rect x="1430" y="466" width="5" height="49" fill="#26a69a"/>
<rect x="1440" y="287" width="1" height="201" fill="#26a69a"/>
<rect x="1438" y="326" width="5" height="143" fill="#26a69a"/>
<rect x="1449" y="195" width="1" height="163" fill="#26a69a"/>
<rect x="1447" y="285" width="5" height="42" fill="#26a69a"/>
<rect x="1457" y="155" width="1" height="169" fill="#26a69a"/>
<rect x="1455" y="224" width="5" height="64" fill="#26a69a"/>
<rect x="1465" y="213" width="1" height="104" fill="#ef5350"/>
<rect x="1463" y="223" width="5" height="78" fill="#ef5350"/>
<rect x="1473" y="297" width="1" height="93" fill="#ef5350"/>
<rect x="1471" y="299" width="5" height="38" fill="#ef5350"/>
<rect x="1482" y="299" width="1" height="106" fill="#ef5350"/>
<rect x="1480" y="336" width="5" height="15" fill="#ef5350"/>
<rect x="1490" y="326" width="1" height="106" fill="#ef5350"/>
<rect x="1488" y="350" width="5" height="44" fill="#ef5350"/>
<rect x="1498" y="315" width="1" height="90" fill="#26a69a"/>
<rect x="1496" y="374" width="5" height="21" fill="#26a69a"/>
<rect x="1507" y="375" width="1" height="85" fill="#ef5350"/>
<rect x="1505" y="375" width="5" height="19" fill="#ef5350"/>
<rect x="1515" y="359" width="1" height="62" fill="#26a69a"/>
<rect x="1513" y="374" width="5" height="18" fill="#26a69a"/>
<rect x="1523" y="350" width="1" height="59" fill="#ef5350"/>
<rect x="1521" y="370" width="5" height="21" fill="#ef5350"/>
<rect x="1532" y="385" width="1" height="67" fill="#ef5350"/>
<rect x="1530" y="386" width="5" height="35" fill="#ef5350"/>
<rect x="1540" y="404" width="1" height="50" fill="#ef5350"/>
<rect x="1538" y="420" width="5" height="34" fill="#ef5350"/>
<rect x="1548" y="383" width="1" height="84" fill="#26a69a"/>
<rect x="1546" y="393" width="5" height="61" fill="#26a69a"/>
<rect x="1556" y="327" width="1" height="84" fill="#ef5350"/>
<rect x="1554" y="394" width="5" height="5" fill="#ef5350"/>
<rect x="1565" y="386" width="1" height="51" fill="#ef5350"/>
<rect x="1563" y="398" width="5" height="19" fill="#ef5350"/>
</g>
<g shape-rendering="crispEdges">
<line x1="1843.5" y1="29" x2="1843.5" y2="575" stroke="#217d78" stroke-width="1" stroke-dasharray="1 1"/>
<line x1="1843.5" y1="575" x2="1843.5" y2="902" stroke="#217d78" stroke-width="1" stroke-dasharray="1 2"/>
<line x1="1843.5" y1="902" x2="1843.5" y2="1204" stroke="#217d78" stroke-width="1" stroke-dasharray="1 3"/>
<line x1="11" y1="1177.5" x2="1570" y2="1177.5" stroke="#217d78" stroke-width="1" stroke-dasharray="1 1"/>
<line x1="1570" y1="1177.5" x2="1898" y2="1177.5" stroke="#217d78" stroke-width="1" stroke-dasharray="1 2"/>
<line x1="10.5" y1="667" x2="10.5" y2="697" stroke="#a9d4de" stroke-width="1" stroke-dasharray="1 1"/>
<line x1="10.5" y1="1163" x2="10.5" y2="1177" stroke="#b0393c" stroke-width="1" stroke-dasharray="1 3"/>
<line x1="13" y1="416.5" x2="1843" y2="416.5" stroke="#ef5350" stroke-width="1" stroke-dasharray="1 2"/>
</g>
<path d="M1843 408H1893a2 2 0 0 1 2 2V437a2 2 0 0 1 -2 2H1843Z" fill="#ef5350"/>
<text x="1852.8" y="421" font-size="12" fill="#ffffff" textLength="36.2" lengthAdjust="spacingAndGlyphs">0.2538</text>
<text x="1852.8" y="435" font-size="12" fill="#ffffff" textLength="29.6" lengthAdjust="spacingAndGlyphs">03:30</text>
<text x="1852.8" y="63.6" font-size="12" fill="#c9cbd3" textLength="36.2" lengthAdjust="spacingAndGlyphs">0.2800</text>
<text x="1852.8" y="131.6" font-size="12" fill="#c9cbd3" textLength="36.2" lengthAdjust="spacingAndGlyphs">0.2750</text>
<text x="1852.8" y="199.6" font-size="12" fill="#c9cbd3" textLength="36.2" lengthAdjust="spacingAndGlyphs">0.2700</text>
<text x="1852.8" y="267.6" font-size="12" fill="#c9cbd3" textLength="36.2" lengthAdjust="spacingAndGlyphs">0.2650</text>
<text x="1852.8" y="335.6" font-size="12" fill="#c9cbd3" textLength="36.2" lengthAdjust="spacingAndGlyphs">0.2600</text>
<text x="1852.8" y="403.6" font-size="12" fill="#c9cbd3" textLength="36.2" lengthAdjust="spacingAndGlyphs">0.2550</text>
<text x="1852.8" y="471.6" font-size="12" fill="#c9cbd3" textLength="36.2" lengthAdjust="spacingAndGlyphs">0.2500</text>
<text x="1852.8" y="539.6" font-size="12" fill="#c9cbd3" textLength="36.2" lengthAdjust="spacingAndGlyphs">0.2450</text>
<text x="1852.8" y="607.6" font-size="12" fill="#c9cbd3" textLength="36.2" lengthAdjust="spacingAndGlyphs">0.2400</text>
<text x="1852.8" y="675.6" font-size="12" fill="#c9cbd3" textLength="36.2" lengthAdjust="spacingAndGlyphs">0.2350</text>
<text x="1852.8" y="743.6" font-size="12" fill="#c9cbd3" textLength="36.2" lengthAdjust="spacingAndGlyphs">0.2300</text>
<text x="1852.8" y="811.6" font-size="12" fill="#c9cbd3" textLength="36.2" lengthAdjust="spacingAndGlyphs">0.2250</text>
<text x="1852.8" y="879.6" font-size="12" fill="#c9cbd3" textLength="36.2" lengthAdjust="spacingAndGlyphs">0.2200</text>
<text x="1852.8" y="947.6" font-size="12" fill="#c9cbd3" textLength="36.2" lengthAdjust="spacingAndGlyphs">0.2150</text>
<text x="1852.8" y="1015.6" font-size="12" fill="#c9cbd3" textLength="36.2" lengthAdjust="spacingAndGlyphs">0.2100</text>
<text x="1852.8" y="1083.6" font-size="12" fill="#c9cbd3" textLength="36.2" lengthAdjust="spacingAndGlyphs">0.2050</text>
<text x="1852.8" y="1151.6" font-size="12" fill="#c9cbd3" textLength="36.2" lengthAdjust="spacingAndGlyphs">0.2000</text>
<rect x="1853.5" y="33.5" width="35" height="18" rx="3.5" fill="none" stroke="#217d78" stroke-width="1" stroke-dasharray="1 1"/>
<text x="1857.6" y="47" font-size="12" fill="#c9cbd3" textLength="27.4" lengthAdjust="spacingAndGlyphs">BUSD</text>
<text x="95.7" y="1195" font-size="12" fill="#c9cbd3" text-anchor="middle" textLength="11.6" lengthAdjust="spacingAndGlyphs">15</text>
<text x="195.314" y="1195" font-size="12" fill="#c9cbd3" text-anchor="middle" textLength="29.6" lengthAdjust="spacingAndGlyphs">06:00</text>
<text x="294.929" y="1195" font-size="12" fill="#c9cbd3" text-anchor="middle" textLength="29.6" lengthAdjust="spacingAndGlyphs">12:00</text>
<text x="394.543" y="1195" font-size="12" fill="#c9cbd3" text-anchor="middle" textLength="29.6" lengthAdjust="spacingAndGlyphs">18:00</text>
<text x="494.158" y="1195" font-size="12" fill="#c9cbd3" text-anchor="middle" textLength="11.6" lengthAdjust="spacingAndGlyphs">16</text>
<text x="593.772" y="1195" font-size="12" fill="#c9cbd3" text-anchor="middle" textLength="29.6" lengthAdjust="spacingAndGlyphs">06:00</text>
<text x="693.386" y="1195" font-size="12" fill="#c9cbd3" text-anchor="middle" textLength="29.6" lengthAdjust="spacingAndGlyphs">12:00</text>
<text x="793.001" y="1195" font-size="12" fill="#c9cbd3" text-anchor="middle" textLength="29.6" lengthAdjust="spacingAndGlyphs">18:00</text>
<text x="892.615" y="1195" font-size="12" fill="#c9cbd3" text-anchor="middle" textLength="11.6" lengthAdjust="spacingAndGlyphs">17</text>
<text x="992.23" y="1195" font-size="12" fill="#c9cbd3" text-anchor="middle" textLength="29.6" lengthAdjust="spacingAndGlyphs">06:00</text>
<text x="1091.84" y="1195" font-size="12" fill="#c9cbd3" text-anchor="middle" textLength="29.6" lengthAdjust="spacingAndGlyphs">12:00</text>
<text x="1191.46" y="1195" font-size="12" fill="#c9cbd3" text-anchor="middle" textLength="29.6" lengthAdjust="spacingAndGlyphs">18:00</text>
<text x="1291.07" y="1195" font-size="12" fill="#c9cbd3" text-anchor="middle" textLength="11.6" lengthAdjust="spacingAndGlyphs">18</text>
<text x="1390.69" y="1195" font-size="12" fill="#c9cbd3" text-anchor="middle" textLength="29.6" lengthAdjust="spacingAndGlyphs">06:00</text>
<text x="1490.3" y="1195" font-size="12" fill="#c9cbd3" text-anchor="middle" textLength="29.6" lengthAdjust="spacingAndGlyphs">12:00</text>
<text x="1589.92" y="1195" font-size="12" fill="#c9cbd3" text-anchor="middle" textLength="29.6" lengthAdjust="spacingAndGlyphs">18:00</text>
<text x="1689.53" y="1195" font-size="12" fill="#c9cbd3" text-anchor="middle" textLength="11.6" lengthAdjust="spacingAndGlyphs">19</text>
<text x="1789.14" y="1195" font-size="12" fill="#c9cbd3" text-anchor="middle" textLength="29.6" lengthAdjust="spacingAndGlyphs">06:00</text>
<text x="17.5" y="45.6" font-size="12" fill="#d1d4dc" textLength="164.7" lengthAdjust="spacingAndGlyphs">Dogecoin / BUSD, 30, BINANCE</text>
<text x="190.3" y="45.6" font-size="12" fill="#d1d4dc" textLength="6.6" lengthAdjust="spacingAndGlyphs">O</text>
<text x="198.3" y="45.6" font-size="12" fill="#ef5350" textLength="34.6" lengthAdjust="spacingAndGlyphs">0.2551</text>
<text x="241.4" y="45.6" font-size="12" fill="#d1d4dc" textLength="7" lengthAdjust="spacingAndGlyphs">H</text>
<text x="249.3" y="45.6" font-size="12" fill="#ef5350" textLength="35.4" lengthAdjust="spacingAndGlyphs">0.2560</text>
<text x="292.2" y="45.6" font-size="12" fill="#d1d4dc" textLength="6" lengthAdjust="spacingAndGlyphs">L</text>
<text x="299.8" y="45.6" font-size="12" fill="#ef5350" textLength="33.8" lengthAdjust="spacingAndGlyphs">0.2523</text>
<text x="341.7" y="45.6" font-size="12" fill="#d1d4dc" textLength="6.2" lengthAdjust="spacingAndGlyphs">C</text>
<text x="348.9" y="45.6" font-size="12" fill="#ef5350" textLength="35" lengthAdjust="spacingAndGlyphs">0.2538</text>
<text x="392.1" y="45.6" font-size="12" fill="#ef5350" textLength="40.6" lengthAdjust="spacingAndGlyphs">−0.0013</text>
<text x="438.3" y="45.6" font-size="12" fill="#ef5350" textLength="44.1" lengthAdjust="spacingAndGlyphs">(−0.51%)</text>
<text x="17.9" y="63" font-size="12" fill="#d1d4dc" textLength="15.9" lengthAdjust="spacingAndGlyphs">Vol</text>
<text x="41.9" y="63" font-size="12" fill="#ef5350" textLength="44.2" lengthAdjust="spacingAndGlyphs">13.549M</text>
<g fill="#131722">
<path d="M10 1217.1H17.85V1227H14V1221H10Z"/>
<circle cx="21.5" cy="1219.05" r="1.95"/>
<path d="M25.3 1217.1H29.4L25.7 1227H21.1Z"/>
</g>
<text x="33.2" y="1227" font-size="13" fill="#363a45" textLength="70.2" lengthAdjust="spacingAndGlyphs">TradingView</text>
</svg></body></html>
